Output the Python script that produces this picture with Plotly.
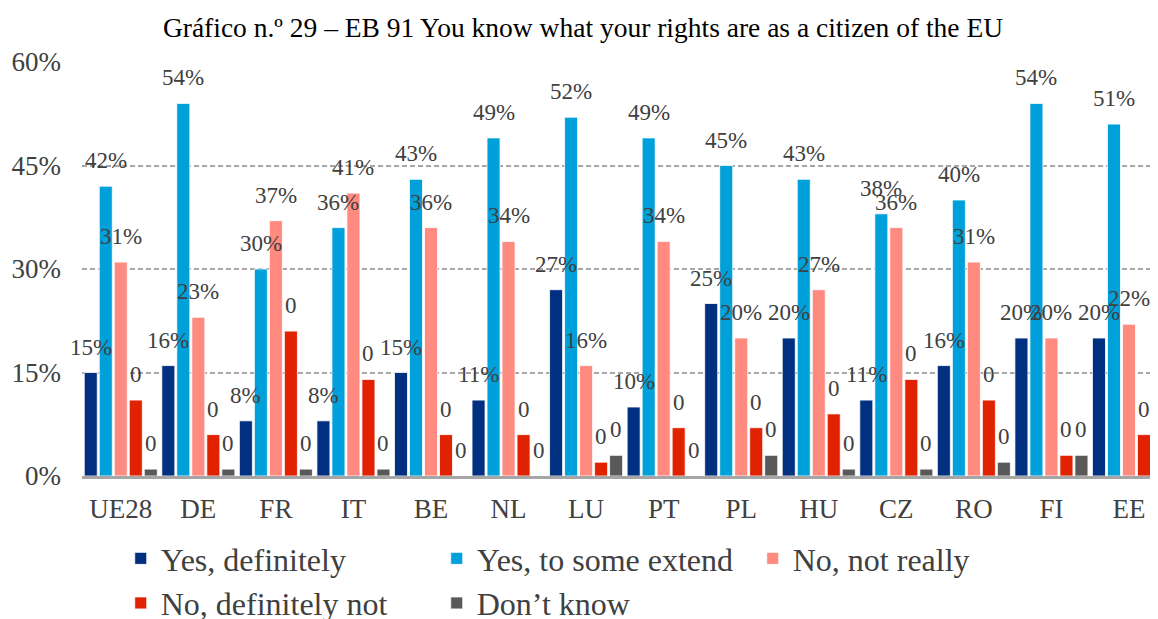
import plotly.graph_objects as go

categories = ["UE28", "DE", "FR", "IT", "BE", "NL", "LU", "PT", "PL", "HU", "CZ", "RO", "FI", "EE"]
yes_definitely = [15, 16, 8, 8, 15, 11, 27, 10, 25, 20, 11, 16, 20, 20]
yes_some_extent = [42, 54, 30, 36, 43, 49, 52, 49, 45, 43, 38, 40, 54, 51]
no_not_really = [31, 23, 37, 41, 36, 34, 16, 34, 20, 27, 36, 31, 20, 22]
no_definitely_not = [11, 6, 21, 14, 6, 6, 2, 7, 7, 9, 14, 11, 3, 6]
dont_know = [1, 1, 1, 1, 0, 0, 3, 0, 3, 1, 1, 2, 3, 1]

series_names = ["Yes, definitely", "Yes, to some extend", "No, not really",
                "No, definitely not", "Don\u2019t know"]
series_values = [yes_definitely, yes_some_extent, no_not_really, no_definitely_not, dont_know]
series_colors = ["#00307F", "#00A0DA", "#FF8A80", "#E02200", "#595959"]
label_as_percent = [True, True, True, False, False]

FONT = "Liberation Serif, Times New Roman, serif"
TXT = "#404040"

slot = 0.1935
bar_w = 0.168

fig = go.Figure()
annotations = []
xs = list(range(len(categories)))
for k, (name, vals, col, pct) in enumerate(zip(series_names, series_values, series_colors, label_as_percent)):
    off = (k - 2) * slot - bar_w / 2
    fig.add_trace(go.Bar(
        x=xs, y=vals, name=name,
        marker=dict(color=col, line=dict(color="white", width=0.8)),
        offset=off, width=bar_w,
        hoverinfo="skip",
    ))
    for i, v in enumerate(vals):
        annotations.append(dict(
            x=i + off + bar_w / 2, y=v, xref="x", yref="y",
            text=(f"{v}%" if pct else "0"),
            showarrow=False, yanchor="bottom", xanchor="center", yshift=11,
            font=dict(family=FONT, size=23, color=TXT),
        ))

# page body adds an 8px offset; figure sized so the plot area lands at x 82-1158, y 62-476
fig.update_layout(
    width=1150, height=611,
    margin=dict(l=74, r=0, t=54, b=143, autoexpand=False),
    barmode="overlay",
    plot_bgcolor="white", paper_bgcolor="white",
    title=dict(text="Gráfico n.º 29 \u2013 EB 91 You know what your rights are as a citizen of the EU",
               x=0.5, xanchor="center", xref="container", y=0.969, yanchor="middle",
               font=dict(family=FONT, size=27.5, color="#000000")),
    annotations=annotations,
    legend=dict(orientation="h", x=0.036, xanchor="left", y=-0.133, yanchor="top",
                entrywidth=271, entrywidthmode="pixels",
                font=dict(family=FONT, size=32, color=TXT),
                traceorder="normal", bgcolor="rgba(0,0,0,0)"),
    showlegend=True,
)
fig.update_xaxes(
    tickmode="array", tickvals=xs, ticktext=categories,
    range=[-0.5, -0.5 + (1158 - 82.75) / 77.5],
    showgrid=False, zeroline=False, automargin=False,
    showline=True, linecolor="#A6A6A6", linewidth=2.5,
    ticks="", ticklabelstandoff=7,
    tickfont=dict(family=FONT, size=27, color=TXT),
)
fig.update_yaxes(
    range=[0, 60], tickvals=[0, 15, 30, 45, 60], ticktext=["0%", "15%", "30%", "45%", "60%"],
    showgrid=True, gridcolor="#A6A6A6", gridwidth=2, griddash="5px,3px",
    zeroline=False, showline=False, ticks="", ticklabelstandoff=20, automargin=False,
    tickfont=dict(family=FONT, size=27, color=TXT),
)
fig.write_html("out.html")
